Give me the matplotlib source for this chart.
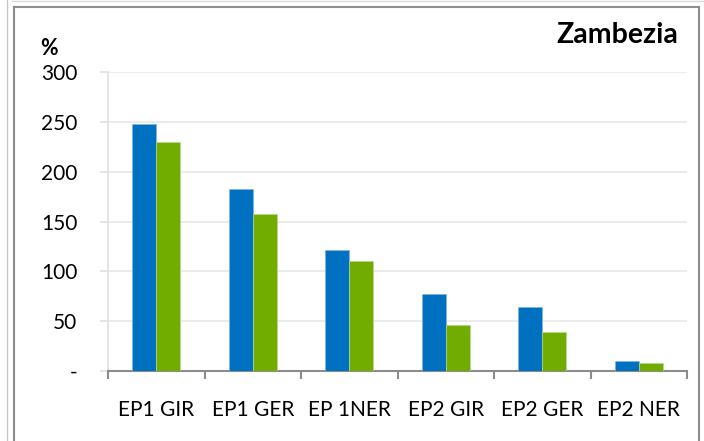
import matplotlib
matplotlib.use("Agg")
import matplotlib.pyplot as plt
from matplotlib.lines import Line2D
import numpy as np

categories = ["EP1 GIR", "EP1 GER", "EP 1NER", "EP2 GIR", "EP2 GER", "EP2 NER"]
blue_values = [248, 183, 121, 77, 64, 10]
green_values = [230, 158, 110, 46, 39, 8]
y_ticks = [0, 50, 100, 150, 200, 250, 300]
y_tick_labels = ["-", "50", "100", "150", "200", "250", "300"]

plt.rcParams['font.family'] = ['Lato', 'DejaVu Sans']

W, H = 704, 441
fig = plt.figure(figsize=(W / 100, H / 100), dpi=100)

def px(x, y):
    # pixel coords (top-left origin) -> figure fraction
    return x / W, 1 - y / H

# outer frame lines
for xs, ys, c, lw in [
    ([7, 7], [0, 441], "#c8c8c8", 1.0),
    ([14, 14], [7, 441], "#8c8c8c", 1.5),
    ([14, 699], [7, 7], "#8c8c8c", 1.5),
    ([699, 699], [7, 441], "#8c8c8c", 1.5),
    ([12, 704], [1, 1], "#d9d9d9", 1.0),
]:
    (x0, y0), (x1, y1) = px(xs[0], ys[0]), px(xs[1], ys[1])
    fig.add_artist(Line2D([x0, x1], [y0, y1], color=c, linewidth=lw,
                          transform=fig.transFigure))

left, top, right, bottom = 108, 72, 687, 371
ax = fig.add_axes([left / W, 1 - bottom / H, (right - left) / W, (bottom - top) / H])

x = np.arange(len(categories))
w = 0.25
ax.bar(x - w / 2, blue_values, w, color="#0070C0", edgecolor="#7fb3e0", linewidth=0.5, zorder=3)
ax.bar(x + w / 2, green_values, w, color="#70AD00", edgecolor="#b5d98a", linewidth=0.5, zorder=3)

ax.set_xlim(-0.5, len(categories) - 0.5)
ax.set_ylim(0, 300)
ax.set_yticks(y_ticks)
ax.set_yticklabels(y_tick_labels)
ax.set_xticks(x)
ax.set_xticklabels(categories)
ax.set_xticks(np.arange(-0.5, len(categories)), minor=True)

ax.grid(axis="y", color="#e8e8e8", linewidth=1.2, zorder=0)
for s in ["top", "right"]:
    ax.spines[s].set_visible(False)
ax.spines["left"].set_color("#e0e0e0")
ax.spines["left"].set_linewidth(1.2)
ax.spines["bottom"].set_color("#8c8c8c")
ax.spines["bottom"].set_linewidth(1.5)

ax.tick_params(axis="y", length=6, width=1.2, color="#e0e0e0", pad=16,
               labelsize=15, labelcolor="black")
ax.tick_params(axis="x", which="major", length=0, pad=21, labelsize=15)
ax.tick_params(axis="x", which="minor", length=6, width=1.5, color="#8c8c8c")

fig.text(*px(40, 55), "%", fontsize=15.5, fontweight="bold", ha="left", va="baseline")
fig.text(*px(678, 43), "Zambezia", fontsize=20.5, fontweight="bold", ha="right", va="baseline")

fig.savefig("out.png", dpi=100)
